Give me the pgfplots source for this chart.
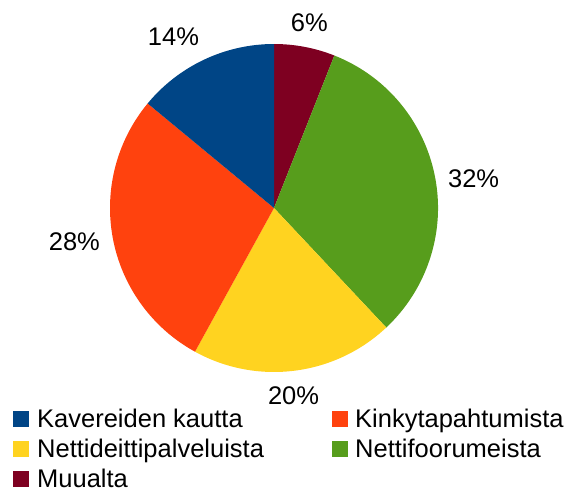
\documentclass[border=0pt]{standalone}
\usepackage{fontspec}
\setmainfont{Liberation Sans}
\usepackage{pgfplots}
\pgfplotsset{compat=1.18}
\definecolor{cKa}{HTML}{004586}
\definecolor{cKi}{HTML}{FF420E}
\definecolor{cNd}{HTML}{FFD320}
\definecolor{cNf}{HTML}{579D1C}
\definecolor{cMu}{HTML}{7E0021}
\def\cx{274}\def\cy{283}\def\R{164}\def\RL{176}
\begin{document}
\begin{tikzpicture}
\begin{axis}[
  scale only axis, width=579pt, height=491pt,
  xmin=0, xmax=579, ymin=0, ymax=491,
  hide axis, clip=false,
  font=\fontsize{25.5}{30}\selectfont
]
\path (axis cs:0,0) rectangle (axis cs:579,491);
\xdef\cur{90}
% value / colour / label x-shift / label y-shift (pt)
\foreach \v/\c/\dx/\dy in {6/cMu/0/0,32/cNf/-2/-9,20/cNd/-4/-1,28/cKi/2/4,14/cKa/-20/0}{
  \pgfmathsetmacro\a{\cur}
  \pgfmathsetmacro\b{\cur-3.6*\v}
  \pgfmathsetmacro\m{(\a+\b)/2}
  \pgfmathsetmacro\an{mod(\m+180+720,360)}
  \edef\temp{\noexpand\fill[\c] (axis cs:\cx,\cy) -- ++(\a:\R pt) arc[start angle=\a, end angle=\b, radius=\R pt] -- cycle;
    \noexpand\path (axis cs:\cx,\cy) ++(\m:\RL pt) ++(\dx pt,\dy pt) node[anchor=\an, inner sep=3pt, font=\noexpand\fontsize{25.5}{30}\noexpand\selectfont] {\v\noexpand\%};}
  \temp
  \xdef\cur{\b}
}
% legend
\fill[cKa] (axis cs:13,64) rectangle (axis cs:29,80);
\node[anchor=base west, inner sep=0] at (axis cs:37,64) {Kavereiden kautta};
\fill[cKi] (axis cs:332,64) rectangle (axis cs:348,80);
\node[anchor=base west, inner sep=0] at (axis cs:355,64) {Kinkytapahtumista};
\fill[cNd] (axis cs:13,34) rectangle (axis cs:29,50);
\node[anchor=base west, inner sep=0] at (axis cs:37,34) {Nettideittipalveluista};
\fill[cNf] (axis cs:332,34) rectangle (axis cs:348,50);
\node[anchor=base west, inner sep=0] at (axis cs:355,34) {Nettifoorumeista};
\fill[cMu] (axis cs:13,4) rectangle (axis cs:29,20);
\node[anchor=base west, inner sep=0] at (axis cs:37,4) {Muualta};
\end{axis}
\end{tikzpicture}
\end{document}
